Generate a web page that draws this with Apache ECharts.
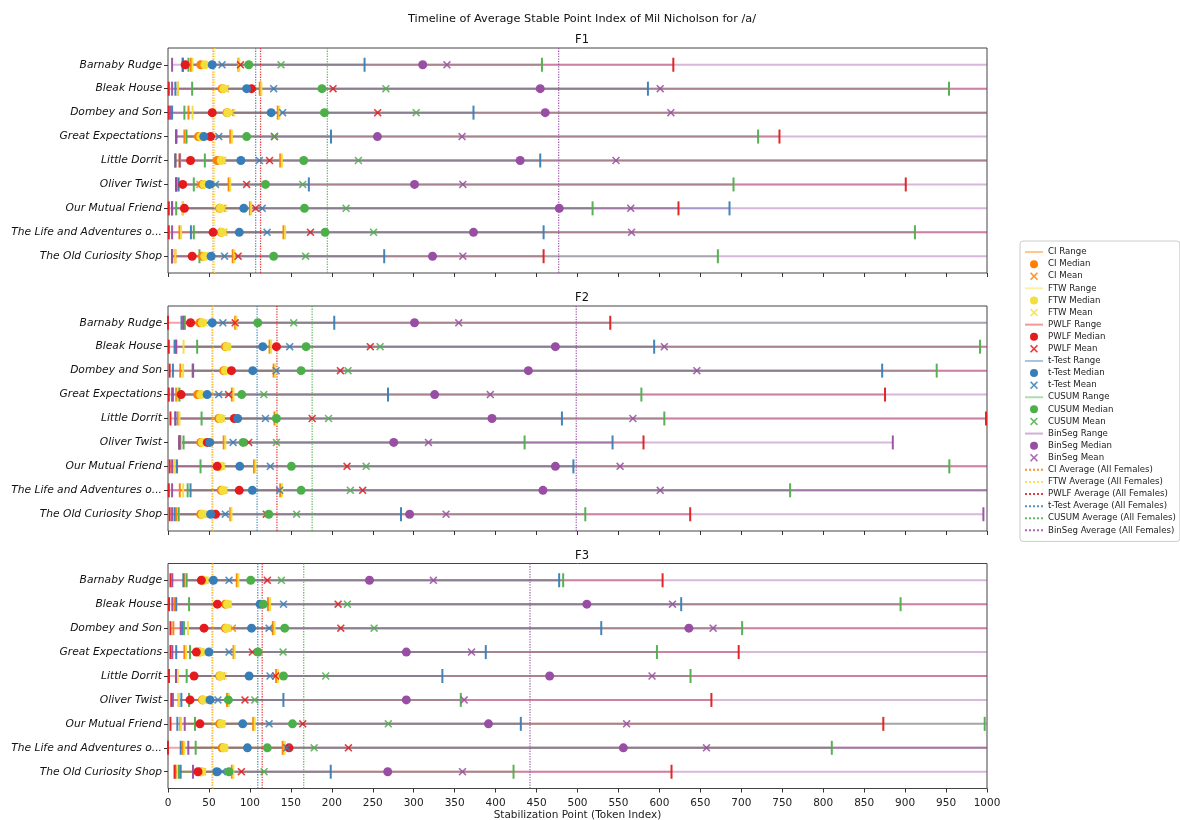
<!DOCTYPE html>
<html>
<head>
<meta charset="utf-8">
<script src="https://cdn.jsdelivr.net/npm/echarts@6/dist/echarts.min.js"></script>
<style>html,body{margin:0;padding:0;background:#fff;}#chart{width:1180px;height:820px;}</style>
</head>
<body>
<div id="chart"></div>
<script>
// ---------- DATA ----------
const books = ['Barnaby Rudge','Bleak House','Dombey and Son','Great Expectations','Little Dorrit','Oliver Twist','Our Mutual Friend','The Life and Adventures o...','The Old Curiosity Shop'];
const methods = ['CI','FTW','PWLF','t-Test','CUSUM','BinSeg'];
const panelTitles = ['F1','F2','F3'];
const xTicks = [0,50,100,150,200,250,300,350,400,450,500,550,600,650,700,750,800,850,900,950,1000];
// each entry: [min, median, mean, max] per book (max beyond 1000 runs off the axis)
const F1_CI     = [[28,40,42,86],[12,66,70,112],[25,72,76,134],[20,37,45,76],[14,60,66,137],[10,42,39,74],[18,63,66,100],[14,65,68,141],[9,42,45,79]];
const F1_FTW    = [[30,45,48,87],[12,68,70,114],[30,73,78,136],[22,40,48,78],[15,65,67,139],[12,44,46,76],[18,64,68,101.5],[16,66,68,143],[9,45,48,81]];
const F1_PWLF   = [[18,21,88.5,617],[1,102,201.5,1050],[1,54,256,1050],[10,52,130,746.6],[9,27.5,124,1050],[10,18,96,900.8],[1,20,107,623.3],[1,55,174,1050],[5,29.5,85.6,458.6]];
const F1_TTEST  = [[18,54,66,240],[9,96,129,586],[5,126,140,373],[10,43.7,62,199],[9,89,111.6,454.5],[13,50.6,58,172],[5,92.5,115,685.6],[28,87,121,458.6],[5,52.7,69,264]];
const F1_CUSUM  = [[25,98.6,138,456.6],[29.5,188,266,953.6],[20,191,303,1050],[22.6,96,130,720.5],[45,165.7,232.5,1050],[31.5,119,164.5,690.5],[10,166.6,217.4,518.4],[31.5,191.8,251,912],[38.4,129,168,671.4]];
const F1_BINSEG = [[5,311,340.6,1050],[5,454.5,601,1050],[3,460.6,614,1050],[10,255.7,359,1050],[14.4,430,547,1050],[10,301,360,1050],[5,477.7,565,1050],[5,373,566,1050],[5,323,360,1050]];
const F1_AVG    = [55, 57, 113, 107, 194.6, 477];

const F2_CI     = [[20,39,41,82],[10,70,72,124],[15,68,70,129],[10,36,40,78],[12,62,64,130],[14,40,42,68],[8,62,64,105],[14.4,65,67,137],[10,40,43,76]];
const F2_FTW    = [[20,42,44,83.6],[19,72,72,126],[18.5,70,72,131],[12,40,42,80],[14,64,66,132.4],[16,42,44,70],[8,64,66,106.8],[18.5,67,69,139.3],[13,42,43,77.5]];
const F2_PWLF   = [[0,27.5,82,540],[1,132.4,247,1050],[2,77.5,210.5,1050],[1,16,74,875.5],[3,81,176,998.8],[14,48,98.6,580.6],[2,60,218.6,1050],[1,87,237.7,1050],[2,58,120,637.6]];
const F2_TTEST  = [[16.5,54,67,203],[8,115.7,148.6,593.6],[6,103.5,132,872],[6,47.8,62,268.6],[9,85,119,481],[14,51,79.5,542.8],[11,87.6,125,495],[27.5,103,136.4,1050],[8,52,70,284.5]];
const F2_CUSUM  = [[20.5,109.6,153.5,1050],[35.6,168.6,259,991.5],[30,162.5,219.8,938.6],[14,90,117,578],[41,132.4,196,606],[19,91.7,132.4,435.4],[39.7,150.7,242,954],[24,162.5,222.7,759.6],[13,123,157,509.5]];
const F2_BINSEG = [[18.5,301,355,1050],[10,473,606,1050],[30.7,440,645.7,1050],[5,325.6,393.5,1050],[9,395.6,567.6,1050],[14,275.6,318,885],[5,473,552,1050],[5,457.8,601,1050],[5,295,339.5,995.6]];
const F2_AVG    = [54, 55, 133, 108.8, 176, 498.5];

const F3_CI     = [[20,42,44,84],[8,70,72,122],[6.5,70,78.6,128],[20,38,40,80],[10,63,65,132],[13,42,44,72],[15,63,65,104],[18,66,68,140],[9.4,40,42,78]];
const F3_FTW    = [[22,44,46,86],[10,72.5,74,124.6],[24.4,71.7,74,130.3],[22,40,42,81.4],[12,64,67.6,134.4],[13.4,43,44,74.5],[16,65,66,105.9],[20,68.4,69,142.5],[12,41,42,79.8]];
const F3_PWLF   = [[3,40.7,121.3,603.9],[1.2,60.3,207.7,1050],[3,44,211,1050],[3,34.6,103,696.8],[1.2,31.8,131.5,1050],[4,26.9,94,663.5],[3,39,164.5,873.4],[0,147.8,220.3,1050],[8,36.6,89.6,614.8]];
const F3_TTEST  = [[18.7,55.4,74.5,477.6],[10,112.4,141,626.6],[17.5,102,123.4,529],[10,50,74.5,388],[9.8,99,124.6,335],[16.3,51.3,61,140.9],[11.4,91.2,123.4,430.8],[15.5,97,145,1050],[15.5,59.5,66.4,198.7]];
const F3_CUSUM  = [[22.8,101,138.4,482.5],[25.7,116.5,219,894.5],[19.5,142.5,251.7,701],[26.9,110,140.5,597],[22.8,141,192.6,638],[25.7,73.7,106,357.5],[33,152,269,997.2],[33.8,121.3,178.4,810.5],[13.4,74.5,117.3,421.9]];
const F3_BINSEG = [[5.3,246,324,1050],[5.3,511.4,616,1050],[15.5,636,665.6,1050],[5.3,291,370.6,1050],[9.8,466,591,1050],[6,291,361.6,1050],[20.4,391.3,560,1050],[24.8,556,657.5,1050],[30.5,268.3,359.6,1050]];
const F3_AVG    = [54, 55, 115, 109.6, 165.7, 442];

// ---------- STYLE ----------
const colors = {'CI':'#ff7f00','FTW':'#f3df3a','PWLF':'#e41a1c','t-Test':'#377eb8','CUSUM':'#4daf4a','BinSeg':'#984ea3'};
const panels = [
  {title: panelTitles[0], sets: [F1_CI,F1_FTW,F1_PWLF,F1_TTEST,F1_CUSUM,F1_BINSEG], avg: F1_AVG},
  {title: panelTitles[1], sets: [F2_CI,F2_FTW,F2_PWLF,F2_TTEST,F2_CUSUM,F2_BINSEG], avg: F2_AVG},
  {title: panelTitles[2], sets: [F3_CI,F3_FTW,F3_PWLF,F3_TTEST,F3_CUSUM,F3_BINSEG], avg: F3_AVG}
];
const gridTops = [48, 306, 563.5];
const titleTops = [29, 287, 545];
const gridH = 225;
const YMIN = -0.7, YMAX = 8.7;
const rowVals = books.map((b,i)=>i);
const XSYM = 'path://M0,1.4 L1.4,0 L5,3.6 L8.6,0 L10,1.4 L6.4,5 L10,8.6 L8.6,10 L5,6.4 L1.4,10 L0,8.6 L3.6,5 Z';
const FONT = 'DejaVu Sans';
const CLEAR = 'rgba(0,0,0,0)';

const grids = [], xAxes = [], yAxes = [], series = [], titles = [];
titles.push({text:'Timeline of Average Stable Point Index of Mil Nicholson for /a/', left:577, top:9, textAlign:'center',
  textStyle:{fontFamily:FONT, fontSize:11.3, fontWeight:'normal', color:'#111'}});

// legend-only range series
methods.forEach(m=>{
  series.push({type:'line', name:m+' Range', data:[], xAxisIndex:0, yAxisIndex:0, symbol:'none',
    itemStyle:{color:CLEAR}, lineStyle:{color:colors[m], width:2, opacity:0.45}});
});

panels.forEach((p, gi)=>{
  grids.push({left:168, width:819, top:gridTops[gi], height:gridH, show:true, borderColor:'#444', borderWidth:1,
    backgroundColor:'transparent', containLabel:false, outerBoundsMode:'none'});
  titles.push({text:p.title, left:577, top:titleTops[gi], textAlign:'center',
    textStyle:{fontFamily:FONT, fontSize:11.5, fontWeight:'normal', color:'#111'}});
  xAxes.push({type:'value', gridIndex:gi, min:xTicks[0], max:xTicks[xTicks.length-1], interval:50,
    splitLine:{show:false}, axisLine:{show:false, onZero:false},
    axisTick:{show:true, length:4, lineStyle:{color:'#333'}},
    axisLabel:{show: gi===2, fontFamily:FONT, fontSize:10.5, color:'#222', margin:9, formatter:v=>String(v)},
    name: gi===2 ? 'Stabilization Point (Token Index)' : '', nameLocation:'middle', nameGap:19,
    nameTextStyle:{fontFamily:FONT, fontSize:10.5, color:'#222'}});
  yAxes.push({type:'value', gridIndex:gi, inverse:true, min:YMIN, max:YMAX,
    splitLine:{show:false}, axisLine:{show:false, onZero:false},
    axisTick:{show:true, customValues:rowVals, length:4, lineStyle:{color:'#333'}},
    axisLabel:{customValues:rowVals, formatter:v=>books[Math.round(v)], fontFamily:FONT, fontStyle:'italic', fontSize:10.7, color:'#111', margin:6}});

  // range lines
  methods.forEach((m, mi)=>{
    const arr = p.sets[mi];
    series.push({type:'custom', xAxisIndex:gi, yAxisIndex:gi, silent:true, z:1, clip:true,
      data: arr.map((d,i)=>[d[0], d[3], i]),
      encode:{x:[0,1], y:2},
      renderItem:(params, api)=>{
        const s = api.coord([api.value(0), api.value(2)]);
        const e = api.coord([api.value(1), api.value(2)]);
        return {type:'line', shape:{x1:s[0], y1:s[1], x2:e[0], y2:e[1]},
          style:{stroke:colors[m], lineWidth:2, opacity:0.4}};
      }});
  });
  // ticks, medians, means
  methods.forEach((m, mi)=>{
    const arr = p.sets[mi];
    series.push({type:'scatter', xAxisIndex:gi, yAxisIndex:gi, silent:true, z:3, clip:true,
      data: arr.flatMap((d,i)=>[[d[0],i],[d[3],i]]), symbol:'rect', symbolSize:[2,14],
      itemStyle:{color:colors[m], opacity:0.95}});
    series.push({type:'scatter', name:m+' Median', xAxisIndex:gi, yAxisIndex:gi, z:4,
      data: arr.map((d,i)=>[d[1],i]), symbol:'circle', symbolSize:9,
      itemStyle:{color:colors[m], opacity:1}});
    series.push({type:'scatter', name:m+' Mean', xAxisIndex:gi, yAxisIndex:gi, z:4,
      data: arr.map((d,i)=>[d[2],i]), symbol:XSYM, symbolSize:8,
      itemStyle:{color:colors[m], opacity:0.85}});
  });
  // averages
  methods.forEach((m, mi)=>{
    series.push({type:'line', name:m+' Average (All Females)', xAxisIndex:gi, yAxisIndex:gi, z:2,
      data:[[p.avg[mi], YMIN],[p.avg[mi], YMAX]], symbol:'none', silent:true,
      itemStyle:{color:CLEAR}, lineStyle:{color:colors[m], type:'dotted', width:1.3, opacity:0.85}});
  });
});

const legendData = [];
methods.forEach(m=>{ legendData.push(m+' Range', m+' Median', m+' Mean'); });
methods.forEach(m=>{ legendData.push(m+' Average (All Females)'); });

const chart = echarts.init(document.getElementById('chart'), null, {renderer:'canvas'});
chart.setOption({
  animation:false,
  backgroundColor:'#fff',
  title:titles,
  grid:grids, xAxis:xAxes, yAxis:yAxes,
  legend:{data:legendData, orient:'vertical', left:1020, top:241, itemWidth:18, itemHeight:8, itemGap:0,
    padding:[5,4,5,4], borderColor:'#ccc', borderWidth:1, borderRadius:3, selectedMode:false,
    textStyle:{fontFamily:FONT, fontSize:8.6, lineHeight:12.1, color:'#222'}},
  series:series
});
</script>
</body>
</html>
